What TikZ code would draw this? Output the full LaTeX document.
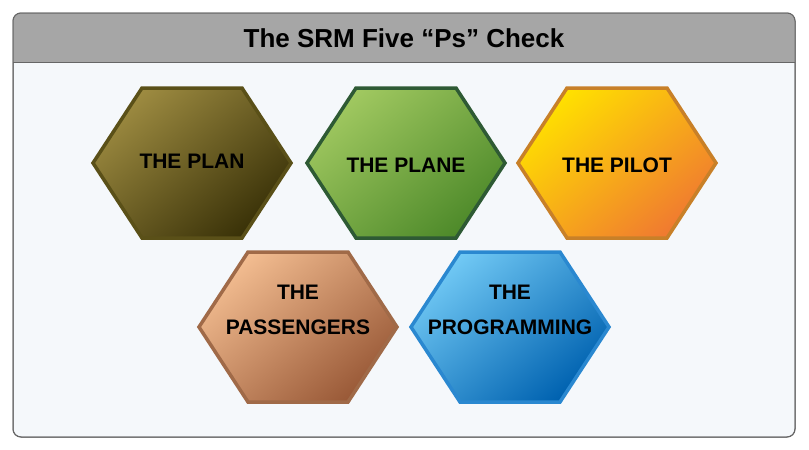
\documentclass[tikz,border=0pt]{standalone}
\usepackage{fontspec}
\setmainfont{Liberation Sans}
\begin{document}
\begin{tikzpicture}[x=1pt,y=-1pt,
  lbl/.style={font=\bfseries\fontsize{21}{25}\selectfont,align=center,text=black},
  hexb/.style={line width=3.5pt,line join=miter}]
\useasboundingbox (0,0) rectangle (809,450);
\fill[white] (0,0) rectangle (809,450);
\definecolor{bodyc}{HTML}{F5F8FB}
\definecolor{a1}{HTML}{9C8A40}\definecolor{a2}{HTML}{3A3208}\definecolor{a3}{HTML}{5A5018}
\definecolor{b1}{HTML}{A0C860}\definecolor{b2}{HTML}{4E8A2A}\definecolor{b3}{HTML}{2E5A34}
\definecolor{c1}{HTML}{FFE000}\definecolor{c2}{HTML}{F07A30}\definecolor{c3}{HTML}{C88028}
\definecolor{d1}{HTML}{F2BC90}\definecolor{d2}{HTML}{9A5A38}\definecolor{d3}{HTML}{A06A48}
\definecolor{e1}{HTML}{70C8F4}\definecolor{e2}{HTML}{0062B0}\definecolor{e3}{HTML}{2A88D0}
\draw[rounded corners=8pt,fill=bodyc,draw=gray!80!black,line width=1pt] (13,13) rectangle (795,437);
\begin{scope}
\clip[rounded corners=8pt] (13,13) rectangle (795,437);
\fill[gray!70] (13,13) rectangle (795,62);
\end{scope}
\draw[gray!80!black,line width=1pt] (13,62) -- (795,62);
\draw[rounded corners=8pt,draw=gray!80!black,line width=1pt] (13,13) rectangle (795,437);
\node[font=\bfseries\fontsize{26}{30}\selectfont] (title) at (404,38) {The SRM Five “Ps” Check};
\newcommand{\hexpath}[1]{++(-99,0) -- ++(49,-75) -- ++(100,0) -- ++(49,75) -- ++(-49,75) -- ++(-100,0) -- cycle}
\def\hexat#1#2#3#4#5{%
  \shade[top color=#3,bottom color=#4,shading angle=40] (#1,#2) \hexpath{};
  \draw[hexb,draw=#5] (#1,#2) \hexpath{};}
\hexat{192}{163}{a1}{a2}{a3}
\hexat{406}{163}{b1}{b2}{b3}
\hexat{617}{163}{c1}{c2}{c3}
\hexat{298}{327}{d1}{d2}{d3}
\hexat{510}{327}{e1}{e2}{e3}
\node[lbl] (plan) at (192,161) {THE PLAN};
\node[lbl] (plane) at (406,165) {THE PLANE};
\node[lbl] (pilot) at (617,165) {THE PILOT};
\node[lbl] (pass) at (298,310) {THE\\[10pt]PASSENGERS};
\node[lbl] (prog) at (510,310) {THE\\[10pt]PROGRAMMING};
\end{tikzpicture}
\end{document}
